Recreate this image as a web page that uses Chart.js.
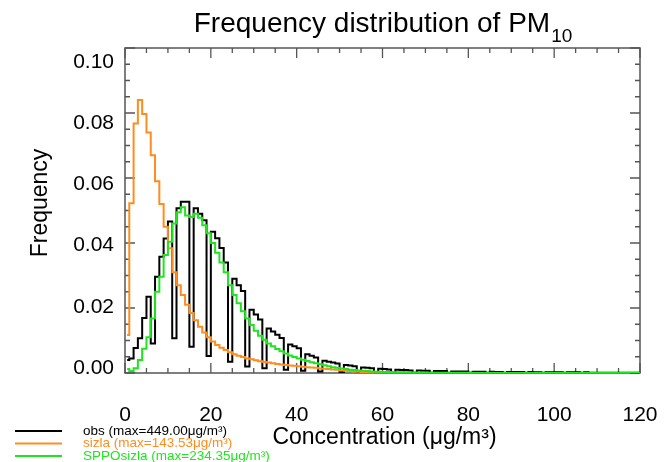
<!DOCTYPE html>
<html>
<head>
<meta charset="utf-8">
<script src="https://cdn.jsdelivr.net/npm/chart.js@4.4.1/dist/chart.umd.min.js"></script>
<style>
html, body { margin: 0; padding: 0; background: #fff; }
</style>
</head>
<body>
<canvas id="pm_chart" width="672" height="462"></canvas>
<script>
// histogram bins: 1 ug/m3 wide, starting at 0
const bin_start = 0;
const bin_width = 1;

const x_ticks = [0, 20, 40, 60, 80, 100, 120];
const y_ticks = [0, 0.02, 0.04, 0.06, 0.08, 0.10];

// frequencies, one value per bin
const obs = [
  0.0040, 0.0045, 0.0077, 0.0107, 0.0169, 0.0235, 0.0091, 0.0296, 0.0358, 0.0414,
  0.0466, 0.0107, 0.0507, 0.0527, 0.0527, 0.0081, 0.0507, 0.0490, 0.0470, 0.0052,
  0.0435, 0.0415, 0.0385, 0.0340, 0.0035, 0.0290, 0.0270, 0.0252, 0.0020, 0.0195,
  0.0180, 0.0165, 0.0015, 0.0137, 0.0128, 0.0118, 0.0108, 0.0010, 0.0088, 0.0082,
  0.0076, 0.0007, 0.0058, 0.0053, 0.0048, 0.0005, 0.0038, 0.0035, 0.0032, 0.0029,
  0.0003, 0.0025, 0.0023, 0.0021, 0.0003, 0.0017, 0.0016, 0.0015, 0.0002, 0.0013,
  0.0012, 0.0011, 0.0001, 0.0010, 0.0009, 0.0009, 0.0008, 0.0001, 0.0008, 0.0007,
  0.0007, 0.0001, 0.0006, 0.0006, 0.0006, 0.0001, 0.0005, 0.0005, 0.0005, 0.0005,
  0.0001, 0.0004, 0.0004, 0.0004, 0.0001, 0.0004, 0.0003, 0.0003, 0.0001, 0.0003,
  0.0003, 0.0003, 0.0003, 0.0001, 0.0003, 0.0002, 0.0002, 0.0001, 0.0002, 0.0002,
  0.0002, 0.0002, 0.0001, 0.0002, 0.0002, 0.0002, 0.0001, 0.0002, 0.0001, 0.0001,
  0.0001, 0.0001, 0.0001, 0.0001, 0.0001, 0.0001, 0.0001, 0.0001, 0.0001, 0.0001,
  0.0001
];

const sizla = [
  0.0117, 0.0522, 0.0768, 0.0840, 0.0797, 0.0740, 0.0670, 0.0590, 0.0520, 0.0450,
  0.0384, 0.0310, 0.0270, 0.0240, 0.0210, 0.0185, 0.0162, 0.0142, 0.0125, 0.0110,
  0.0097, 0.0086, 0.0078, 0.0071, 0.0064, 0.0058, 0.0053, 0.0049, 0.0045, 0.0042,
  0.0039, 0.0036, 0.0034, 0.0032, 0.0030, 0.0028, 0.0026, 0.0025, 0.0023, 0.0022,
  0.0021, 0.0019, 0.0018, 0.0017, 0.0016, 0.0014, 0.0013, 0.0012, 0.0011, 0.0010,
  0.0008, 0.0007, 0.0006, 0.0005, 0.0004, 0.0003, 0.0003, 0.0002, 0.0002, 0.0001,
  0.0001, 0.0001, 0.0001, 0.0001, 0.0001, 0.0001, 0.0001, 0.0001, 0.0001, 0.0001,
  0.0000, 0.0000, 0.0000, 0.0000, 0.0000, 0.0000, 0.0000, 0.0000, 0.0000, 0.0000,
  0.0000, 0.0000, 0.0000, 0.0000, 0.0000, 0.0000, 0.0000, 0.0000, 0.0000, 0.0000,
  0.0000, 0.0000, 0.0000, 0.0000, 0.0000, 0.0000, 0.0000, 0.0000, 0.0000, 0.0000,
  0.0000, 0.0000, 0.0000, 0.0000, 0.0000, 0.0000, 0.0000, 0.0000, 0.0000, 0.0000,
  0.0000, 0.0000, 0.0000, 0.0000, 0.0000, 0.0000, 0.0000, 0.0000, 0.0000, 0.0000,
  0.0000
];

const spposizla = [
  0.0012, 0.0006, 0.0015, 0.0040, 0.0075, 0.0110, 0.0168, 0.0250, 0.0296, 0.0363,
  0.0404, 0.0460, 0.0495, 0.0510, 0.0485, 0.0480, 0.0490, 0.0478, 0.0455, 0.0430,
  0.0400, 0.0370, 0.0340, 0.0310, 0.0270, 0.0240, 0.0215, 0.0190, 0.0168, 0.0148,
  0.0130, 0.0115, 0.0102, 0.0091, 0.0082, 0.0074, 0.0067, 0.0060, 0.0054, 0.0049,
  0.0045, 0.0041, 0.0037, 0.0033, 0.0030, 0.0027, 0.0024, 0.0021, 0.0018, 0.0016,
  0.0014, 0.0012, 0.0010, 0.0009, 0.0008, 0.0007, 0.0006, 0.0005, 0.0004, 0.0004,
  0.0003, 0.0003, 0.0002, 0.0002, 0.0002, 0.0002, 0.0001, 0.0001, 0.0001, 0.0001,
  0.0001, 0.0001, 0.0001, 0.0001, 0.0001, 0.0001, 0.0001, 0.0001, 0.0001, 0.0001,
  0.0001, 0.0000, 0.0000, 0.0000, 0.0000, 0.0000, 0.0000, 0.0000, 0.0000, 0.0000,
  0.0000, 0.0000, 0.0000, 0.0000, 0.0000, 0.0000, 0.0000, 0.0000, 0.0000, 0.0000,
  0.0000, 0.0000, 0.0000, 0.0000, 0.0000, 0.0000, 0.0000, 0.0000, 0.0000, 0.0000,
  0.0000, 0.0000, 0.0000, 0.0000, 0.0000, 0.0000, 0.0000, 0.0000, 0.0000, 0.0000,
  0.0000
];

const series_names = ['obs (max=449.00\u03bcg/m\u00b3)', 'sizla (max=143.53\u03bcg/m\u00b3)', 'SPPOsizla (max=234.35\u03bcg/m\u00b3)'];
const series_colors = ['#000000', '#ff8c1e', '#1ee61e'];

const FONT = "'Liberation Sans', Arial, Helvetica, sans-serif";

// x of each bin centre
function toPoints(list) {
  return list.map((v, i) => ({ x: bin_start + (i + 0.5) * bin_width, y: v }));
}

// frame, inward ticks, title, axis titles and the legend
const decor_plugin = {
  id: 'decor',
  beforeDatasetsDraw(chart) {
    const { ctx, chartArea: a, scales: { x, y } } = chart;
    ctx.save();
    ctx.strokeStyle = '#555';
    ctx.lineWidth = 1.5;
    ctx.strokeRect(a.left, a.top, a.right - a.left, a.bottom - a.top);
    ctx.lineWidth = 1.3;
    ctx.beginPath();
    for (let v = 0; v <= 120; v += 5) {
      const px = x.getPixelForValue(v);
      const len = v % 20 === 0 ? 10 : 5;
      ctx.moveTo(px, a.bottom); ctx.lineTo(px, a.bottom - len);
      ctx.moveTo(px, a.top); ctx.lineTo(px, a.top + len);
    }
    for (let i = 0; i <= 20; i++) {
      const py = y.getPixelForValue(i * 0.005);
      const len = i % 4 === 0 ? 10 : 5;
      ctx.moveTo(a.left, py); ctx.lineTo(a.left + len, py);
      ctx.moveTo(a.right, py); ctx.lineTo(a.right - len, py);
    }
    ctx.stroke();
    ctx.restore();
  },
  afterDraw(chart) {
    const { ctx, chartArea: a } = chart;
    ctx.save();
    ctx.fillStyle = '#000';

    // title with subscript
    const main = 'Frequency distribution of PM';
    const sub = '10';
    ctx.font = '28px ' + FONT;
    const w1 = ctx.measureText(main).width;
    ctx.font = '19px ' + FONT;
    const w2 = ctx.measureText(sub).width;
    const tx = (a.left + a.right) / 2 - (w1 + w2) / 2;
    ctx.textBaseline = 'alphabetic';
    ctx.textAlign = 'left';
    ctx.font = '28px ' + FONT;
    ctx.fillText(main, tx, 32);
    ctx.font = '19px ' + FONT;
    ctx.fillText(sub, tx + w1 + 1, 42);

    // axis titles
    ctx.font = '23px ' + FONT;
    ctx.textAlign = 'center';
    ctx.textBaseline = 'middle';
    ctx.fillText('Concentration (\u03bcg/m\u00b3)', (a.left + a.right) / 2 + 2, 438);
    ctx.save();
    ctx.translate(41, 203);
    ctx.rotate(-Math.PI / 2);
    ctx.fillText('Frequency', 0, 0);
    ctx.restore();

    // legend, bottom left
    ctx.font = '13.5px ' + FONT;
    ctx.textAlign = 'left';
    ctx.lineWidth = 2;
    const rows = [431, 443.5, 456];
    series_names.forEach((name, i) => {
      ctx.strokeStyle = series_colors[i];
      ctx.beginPath();
      ctx.moveTo(15, rows[i]);
      ctx.lineTo(62, rows[i]);
      ctx.stroke();
      ctx.fillStyle = series_colors[i];
      ctx.fillText(name, 83, rows[i]);
    });
    ctx.restore();
  }
};

const ctx = document.getElementById('pm_chart').getContext('2d');

new Chart(ctx, {
  type: 'line',
  data: {
    datasets: [
      { label: 'SPPOsizla', data: toPoints(spposizla), borderColor: series_colors[2] },
      { label: 'sizla', data: toPoints(sizla), borderColor: series_colors[1] },
      { label: 'obs', data: toPoints(obs), borderColor: series_colors[0] }
    ]
  },
  options: {
    responsive: false,
    animation: false,
    events: [],
    layout: { padding: { top: 48, right: 32, left: 0, bottom: 0 } },
    elements: {
      line: { borderWidth: 2, stepped: 'middle', tension: 0, fill: false },
      point: { radius: 0 }
    },
    plugins: { legend: { display: false }, tooltip: { enabled: false } },
    scales: {
      x: {
        type: 'linear',
        min: 0,
        max: 120,
        grid: { display: false, drawTicks: true, tickLength: 28 },
        border: { display: false },
        ticks: { padding: 2, color: '#000', font: { family: FONT, size: 21 }, maxRotation: 0 },
        afterBuildTicks: s => { s.ticks = x_ticks.map(v => ({ value: v })); },
        afterFit: s => { s.height = 89; }
      },
      // data axis, drawn as the frame ticks only
      y: {
        display: false,
        min: 0,
        max: 0.1
      },
      // tick labels sit a little off the tick marks in the original
      yl: {
        position: 'left',
        min: -0.00163,
        max: 0.10458,
        grid: { display: false, drawTicks: false },
        border: { display: false },
        ticks: {
          padding: 11,
          color: '#000',
          font: { family: FONT, size: 21 },
          callback: v => v.toFixed(2)
        },
        afterBuildTicks: s => { s.ticks = y_ticks.map(v => ({ value: v })); },
        afterFit: s => { s.width = 125; }
      }
    }
  },
  plugins: [decor_plugin]
});
</script>
</body>
</html>
